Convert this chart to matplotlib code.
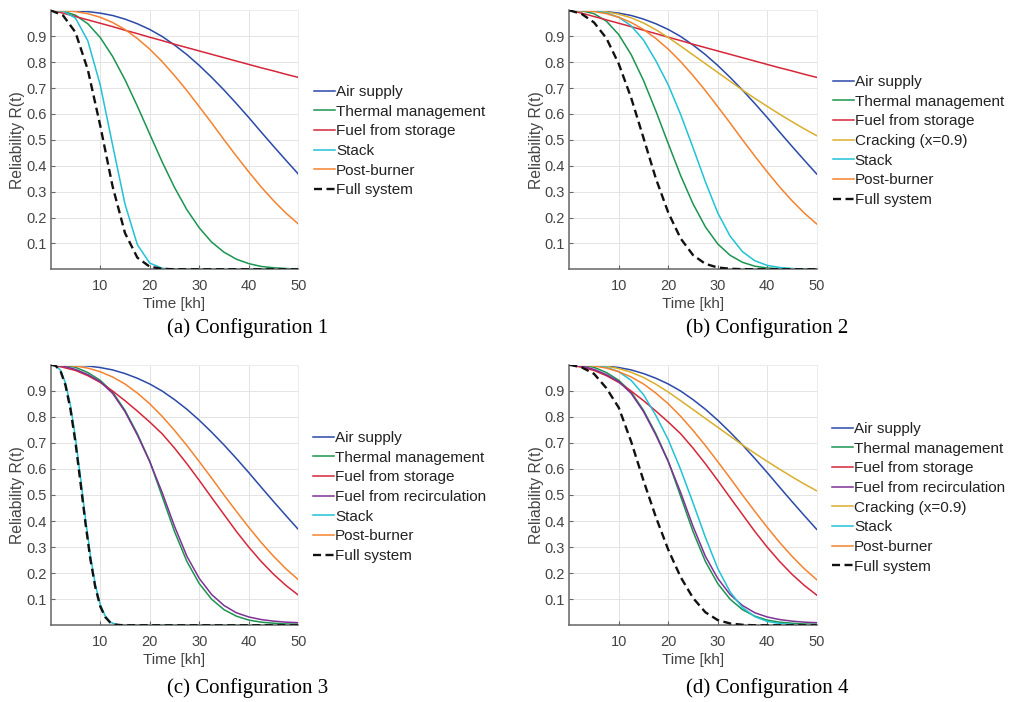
import matplotlib
matplotlib.use("Agg")
import matplotlib.pyplot as plt

# tempo [kh]
T = [0, 2.5, 5, 7.5, 10, 12.5, 15, 17.5, 20, 22.5, 25, 27.5, 30,
     32.5, 35, 37.5, 40, 42.5, 45, 47.5, 50]
T_FINO = [0, 1, 2, 3, 4, 5, 6, 7, 8, 9, 10, 11, 12, 13, 14, 15,
          20, 25, 30, 35, 40, 45, 50]

# curvas comuns
AR = [1.000, 1.000, 0.998, 0.995, 0.989, 0.980, 0.966, 0.948, 0.926, 0.899, 0.866,
      0.829, 0.787, 0.741, 0.692, 0.640, 0.586, 0.530, 0.475, 0.421, 0.368]
POS_QUEIMADOR = [1.000, 0.999, 0.995, 0.987, 0.973, 0.953, 0.926, 0.891, 0.850, 0.802, 0.748,
                 0.690, 0.628, 0.565, 0.500, 0.437, 0.376, 0.318, 0.265, 0.217, 0.175]
CRAQUEAMENTO = [1.000, 1.000, 0.998, 0.994, 0.985, 0.971, 0.951, 0.925, 0.895, 0.862, 0.828,
                0.794, 0.760, 0.726, 0.692, 0.660, 0.629, 0.599, 0.570, 0.542, 0.516]

# configuracao 1
TERMICO_1 = [1.000, 0.997, 0.981, 0.948, 0.895, 0.822, 0.732, 0.630, 0.522, 0.415, 0.316,
             0.230, 0.160, 0.105, 0.066, 0.039, 0.022, 0.011, 0.006, 0.003, 0.001]
COMB_ARMAZ_1 = [1.000, 0.989, 0.976, 0.963, 0.950, 0.937, 0.923, 0.910, 0.896, 0.883, 0.869,
                0.856, 0.843, 0.830, 0.817, 0.804, 0.791, 0.778, 0.766, 0.753, 0.741]
STACK_1 = [1.000, 0.997, 0.970, 0.882, 0.712, 0.480, 0.252, 0.095, 0.024, 0.004, 0.000,
           0.0, 0.0, 0.0, 0.0, 0.0, 0.0, 0.0, 0.0, 0.0, 0.0]
SISTEMA_1 = [1.000, 0.980, 0.915, 0.770, 0.555, 0.320, 0.140, 0.045, 0.010, 0.002, 0.0,
             0.0, 0.0, 0.0, 0.0, 0.0, 0.0, 0.0, 0.0, 0.0, 0.0]

# configuracao 2
TERMICO_2 = [1.000, 0.998, 0.987, 0.958, 0.906, 0.829, 0.729, 0.611, 0.485, 0.362, 0.253,
             0.164, 0.098, 0.054, 0.027, 0.012, 0.005, 0.002, 0.001, 0.0, 0.0]
STACK_2 = [1.000, 1.000, 0.998, 0.990, 0.973, 0.940, 0.885, 0.805, 0.712, 0.598, 0.470,
           0.338, 0.218, 0.128, 0.068, 0.033, 0.015, 0.007, 0.003, 0.001, 0.0]
SISTEMA_2 = [1.000, 0.986, 0.953, 0.892, 0.793, 0.662, 0.507, 0.350, 0.219, 0.119, 0.055,
             0.021, 0.007, 0.002, 0.0005, 0.0, 0.0, 0.0, 0.0, 0.0, 0.0]

# configuracoes 3 e 4
TERMICO_3 = [1.000, 0.998, 0.990, 0.970, 0.940, 0.895, 0.825, 0.735, 0.630, 0.495, 0.360,
             0.245, 0.160, 0.100, 0.060, 0.035, 0.020, 0.012, 0.008, 0.005, 0.004]
COMB_ARMAZ_3 = [1.000, 0.990, 0.978, 0.958, 0.932, 0.899, 0.862, 0.822, 0.780, 0.735, 0.680,
                0.620, 0.556, 0.490, 0.425, 0.360, 0.300, 0.245, 0.196, 0.153, 0.116]
COMB_RECIRC_3 = [1.000, 0.995, 0.982, 0.962, 0.935, 0.890, 0.820, 0.730, 0.628, 0.510, 0.380,
                 0.265, 0.180, 0.118, 0.076, 0.048, 0.032, 0.022, 0.016, 0.012, 0.010]
STACK_3 = [1.000, 0.997, 0.978, 0.929, 0.843, 0.720, 0.570, 0.413, 0.270, 0.157, 0.080,
           0.036, 0.013, 0.004, 0.001, 0.0, 0.0, 0.0, 0.0, 0.0, 0.0, 0.0, 0.0]
SISTEMA_3 = [1.000, 0.996, 0.975, 0.920, 0.828, 0.702, 0.550, 0.395, 0.255, 0.147, 0.073,
             0.032, 0.011, 0.003, 0.001, 0.0, 0.0, 0.0, 0.0, 0.0, 0.0, 0.0, 0.0]
SISTEMA_4 = [1.000, 0.990, 0.965, 0.910, 0.835, 0.705, 0.555, 0.415, 0.290, 0.185, 0.105,
             0.050, 0.020, 0.007, 0.002, 0.0, 0.0, 0.0, 0.0, 0.0, 0.0]

AZUL = "#2a49a8"
VERDE = "#1b9450"
VERMELHO = "#d6263a"
ROXO = "#7e3194"
AMARELO = "#d9ae2c"
CIANO = "#21c1d6"
LARANJA = "#f5822e"

W, H = 1013, 702


def desenha_painel(fig, ret_px, curvas, leg_px, legenda_titulo, legenda_px):
    x0, y0, x1, y1 = ret_px
    ax = fig.add_axes([x0 / W, 1 - y1 / H, (x1 - x0) / W, (y1 - y0) / H])

    for tempo, valores, rotulo, cor, tracejado in curvas:
        if tracejado:
            ax.plot(tempo, valores, color=cor, lw=1.7, linestyle=(0, (3.4, 1.9)),
                    label=rotulo, zorder=5)
        else:
            ax.plot(tempo, valores, color=cor, lw=1.1, label=rotulo)

    ax.set_xlim(0, 50)
    ax.set_ylim(0, 1)
    ax.set_xticks([10, 20, 30, 40, 50])
    ax.set_yticks([0.1, 0.2, 0.3, 0.4, 0.5, 0.6, 0.7, 0.8, 0.9])
    ax.set_yticklabels(["0.1", "0.2", "0.3", "0.4", "0.5", "0.6", "0.7", "0.8", "0.9"])
    ax.grid(True, color="#e3e3e3", lw=0.7)
    ax.set_axisbelow(True)

    for lado in ["left", "bottom"]:
        ax.spines[lado].set_color("#666666")
        ax.spines[lado].set_linewidth(1.1)
    for lado in ["top", "right"]:
        ax.spines[lado].set_color("#ececec")
        ax.spines[lado].set_linewidth(0.7)

    ax.tick_params(axis="both", direction="in", length=3, width=0.8,
                   color="#666666", labelcolor="#444444", labelsize=10.5)
    ax.tick_params(axis="x", pad=7)
    ax.tick_params(axis="y", pad=3)
    ax.set_xlabel("Time [kh]", fontsize=11, color="#444444", labelpad=3)
    ax.set_ylabel("Reliability R(t)", fontsize=11.3, color="#444444", labelpad=0.5)

    ax.legend(loc="upper left", bbox_to_anchor=(leg_px[0] / W, 1 - leg_px[1] / H),
              bbox_transform=fig.transFigure, frameon=False, fontsize=11,
              borderpad=0, borderaxespad=0, handlelength=1.4, handletextpad=0.05,
              labelspacing=0.37, labelcolor="#222222")

    fig.text(legenda_px[0] / W, 1 - legenda_px[1] / H, legenda_titulo,
             ha="center", va="center", fontsize=15, family="Liberation Serif")
    return ax


plt.rcParams["font.family"] = ["Liberation Sans", "DejaVu Sans"]

fig = plt.figure(figsize=(W / 100, H / 100), dpi=100)

desenha_painel(
    fig, (50.7, 10.3, 298.3, 269.3),
    [
        (T, AR, "Air supply", AZUL, False),
        (T, TERMICO_1, "Thermal management", VERDE, False),
        (T, COMB_ARMAZ_1, "Fuel from storage", VERMELHO, False),
        (T, STACK_1, "Stack", CIANO, False),
        (T, POS_QUEIMADOR, "Post-burner", LARANJA, False),
        (T, SISTEMA_1, "Full system", "#111111", True),
    ],
    (314, 85), "(a) Configuration 1", (248, 328)
)

desenha_painel(
    fig, (569.3, 10.3, 816.7, 269.3),
    [
        (T, AR, "Air supply", AZUL, False),
        (T, TERMICO_2, "Thermal management", VERDE, False),
        (T, COMB_ARMAZ_1, "Fuel from storage", VERMELHO, False),
        (T, CRAQUEAMENTO, "Cracking (x=0.9)", AMARELO, False),
        (T, STACK_2, "Stack", CIANO, False),
        (T, POS_QUEIMADOR, "Post-burner", LARANJA, False),
        (T, SISTEMA_2, "Full system", "#111111", True),
    ],
    (832.7, 75), "(b) Configuration 2", (767, 328)
)

desenha_painel(
    fig, (50.7, 364.7, 298.3, 625.3),
    [
        (T, AR, "Air supply", AZUL, False),
        (T, TERMICO_3, "Thermal management", VERDE, False),
        (T, COMB_ARMAZ_3, "Fuel from storage", VERMELHO, False),
        (T, COMB_RECIRC_3, "Fuel from recirculation", ROXO, False),
        (T_FINO, STACK_3, "Stack", CIANO, False),
        (T, POS_QUEIMADOR, "Post-burner", LARANJA, False),
        (T_FINO, SISTEMA_3, "Full system", "#111111", True),
    ],
    (313, 431), "(c) Configuration 3", (248, 688)
)

desenha_painel(
    fig, (569.3, 364.7, 816.7, 625.3),
    [
        (T, AR, "Air supply", AZUL, False),
        (T, TERMICO_3, "Thermal management", VERDE, False),
        (T, COMB_ARMAZ_3, "Fuel from storage", VERMELHO, False),
        (T, COMB_RECIRC_3, "Fuel from recirculation", ROXO, False),
        (T, CRAQUEAMENTO, "Cracking (x=0.9)", AMARELO, False),
        (T, STACK_2, "Stack", CIANO, False),
        (T, POS_QUEIMADOR, "Post-burner", LARANJA, False),
        (T, SISTEMA_4, "Full system", "#111111", True),
    ],
    (832, 422), "(d) Configuration 4", (767, 688)
)

fig.savefig("out.png", dpi=100)
plt.close(fig)
